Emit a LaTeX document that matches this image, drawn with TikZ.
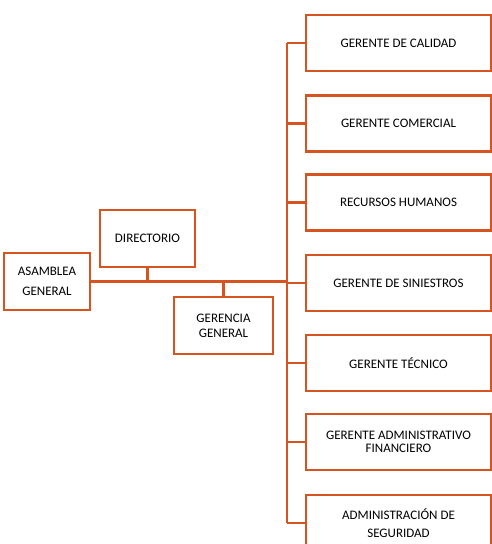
\documentclass[tikz,border=0pt]{standalone}
\usepackage{fontspec}
\setmainfont{Carlito}
\definecolor{naranja}{RGB}{214,84,32}
\begin{document}
\begin{tikzpicture}[x=1pt,y=-1pt,
  caja/.style={draw=naranja,line width=2.4pt,rectangle,inner sep=2pt,align=center,font=\fontsize{13}{15}\selectfont},
  cajader/.style={caja,minimum width=185pt,minimum height=56pt},
  linea/.style={draw=naranja,line width=2.4pt}]
\useasboundingbox (0,0) rectangle (492,544);
% izquierda
\node[caja,minimum width=86pt,minimum height=57pt] at (47,281.5) (asamblea) {ASAMBLEA\\[5pt]GENERAL};
\node[caja,minimum width=95pt,minimum height=57pt] at (147.5,238.5) (directorio) {DIRECTORIO};
\node[caja,minimum width=99pt,minimum height=57pt] at (223.5,325.5) (gerencia) {GERENCIA\\GENERAL};
% derecha
\node[cajader] at (398.5,43) (calidad) {GERENTE DE CALIDAD};
\node[cajader] at (398.5,123.5) (comercial) {GERENTE COMERCIAL};
\node[cajader] at (398.5,202.5) (rrhh) {RECURSOS HUMANOS};
\node[cajader] at (398.5,283) (siniestros) {GERENTE DE SINIESTROS};
\node[cajader] at (398.5,363) (tecnico) {GERENTE TÉCNICO};
\node[cajader] at (398.5,442) (admfin) {GERENTE ADMINISTRATIVO\\[-2pt]FINANCIERO};
\node[cajader] at (398.5,523) (seguridad) {ADMINISTRACIÓN DE\\[3pt]SEGURIDAD};
\coordinate (t) at (287,0);
\draw[linea] (calidad.west -| t) -- (seguridad.west -| t);
\foreach \n in {calidad,comercial,rrhh,siniestros,tecnico,admfin,seguridad}
  \draw[linea] (\n.west) -- (\n.west -| t);
\draw[linea] (asamblea.east) -- (asamblea.east -| t);
\draw[linea] (directorio.south) -- (directorio.south |- asamblea.east);
\draw[linea] (gerencia.north) -- (gerencia.north |- asamblea.east);
\end{tikzpicture}
\end{document}
